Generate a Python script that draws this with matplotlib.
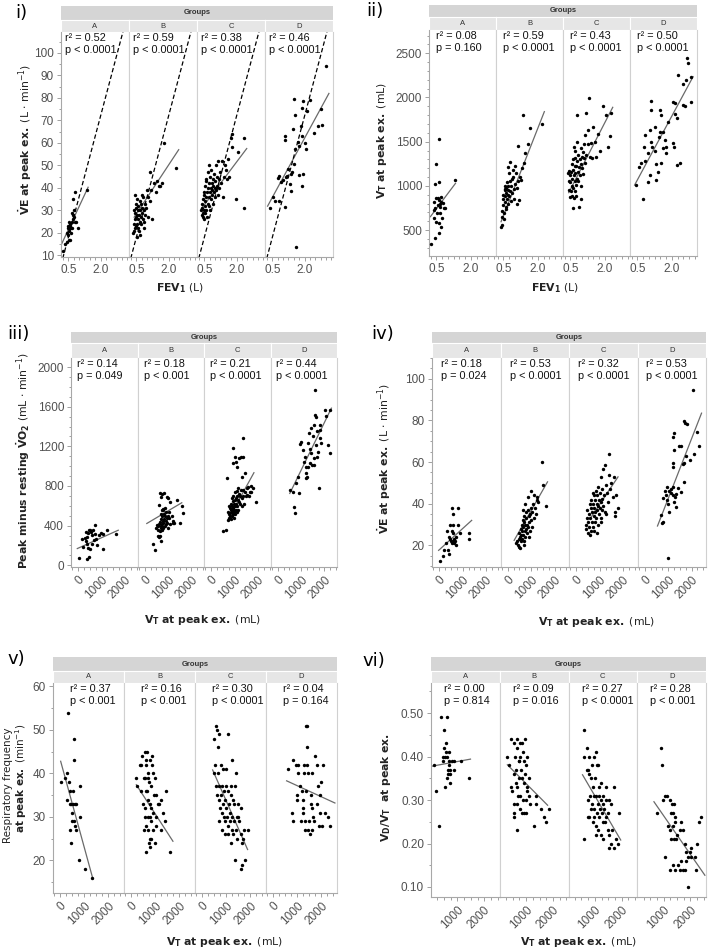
import matplotlib
matplotlib.use("Agg")
import matplotlib.pyplot as plt
from matplotlib.ticker import MultipleLocator, FormatStrFormatter

plt.rcParams['font.family'] = ['Liberation Sans', 'DejaVu Sans']
plt.rcParams['mathtext.fontset'] = 'dejavusans'

groups = ['A', 'B', 'C', 'D']

# ---------------- i) VE at peak ex. vs FEV1 ----------------
i_A = [(0.24,12),(0.35,15),(0.42,16),(0.45,20),(0.48,22),(0.50,23),(0.52,21),(0.55,22),(0.58,23),(0.60,24),
       (0.52,17),(0.58,17),(0.62,20),(0.65,22),(0.68,25),(0.70,26),(0.72,28),(0.75,27),(0.78,30),(0.82,25),
       (0.85,25),(0.72,35),(0.80,38),(0.95,22),(1.35,39),(0.62,22),(0.55,25),(0.48,19),(0.66,29)]
i_B = [(0.35,20),(0.38,21),(0.40,24),(0.42,22),(0.45,26),(0.45,29),(0.48,31),(0.50,27),(0.50,33),(0.52,24),
       (0.55,28),(0.55,35),(0.58,30),(0.58,26),(0.60,22),(0.60,32),(0.62,28),(0.65,25),(0.65,34),(0.68,30),
       (0.70,27),(0.72,33),(0.72,24),(0.75,29),(0.78,31),(0.80,26),(0.82,36),(0.85,30),(0.88,22),(0.90,33),
       (0.92,28),(0.95,31),(1.00,39),(1.05,36),(1.05,27),(1.12,47),(1.15,34),(1.20,39),(1.24,26),(1.32,42),
       (1.40,38),(1.47,43),(1.55,41),(1.62,41),(1.70,42),(1.78,60),(2.36,49),(0.55,18),(0.45,37),(0.62,21),
       (0.40,30),(0.75,37),(0.50,23),(0.68,19),(0.85,25)]
i_C = [(0.35,30),(0.38,28),(0.40,31),(0.40,33),(0.42,29),(0.45,27),(0.45,35),(0.48,30),(0.50,26),(0.50,38),
       (0.52,32),(0.55,29),(0.55,41),(0.58,36),(0.60,30),(0.60,44),(0.62,38),(0.65,33),(0.65,47),(0.68,40),
       (0.70,36),(0.70,50),(0.72,42),(0.75,38),(0.75,30),(0.78,45),(0.80,40),(0.80,35),(0.82,48),(0.85,42),
       (0.85,37),(0.88,39),(0.90,44),(0.90,33),(0.92,41),(0.95,38),(0.95,46),(0.98,40),(1.00,43),(1.00,36),
       (1.02,50),(1.05,39),(1.08,45),(1.10,41),(1.12,37),(1.15,52),(1.18,44),(1.20,40),(1.25,47),(1.28,42),
       (1.30,52),(1.35,36),(1.40,45),(1.45,50),(1.50,48),(1.55,44),(1.60,53),(1.67,45),(1.75,62),(1.78,64),
       (1.80,58),(1.98,35),(2.05,56),(2.33,62),(2.36,31),(0.55,34),(0.62,27),(0.70,32),(0.58,43),(0.48,37)]
i_D = [(3.00,94.4),(1.50,79.6),(1.94,78.6),(2.24,78.9),(1.90,75.7),(2.13,74.2),(1.55,72.3),(2.76,74.9),
       (1.44,66.1),(1.84,67.5),(2.61,67.5),(2.79,68.1),(1.09,63.1),(1.09,61.2),(1.89,63.1),(2.42,64.6),
       (2.00,59.9),(1.71,60.2),(1.55,57.5),(2.08,57.5),(1.74,58.7),(1.49,50.6),(1.25,48.4),(1.36,46.1),
       (1.16,45.4),(0.81,45.4),(0.76,44.2),(0.89,42.5),(1.14,45.0),(1.40,47.0),(1.72,45.8),(1.91,46.1),
       (1.32,41.7),(1.89,40.7),(1.38,38.5),(0.51,35.8),(0.64,34.3),(0.79,34.3),(0.38,31.1),(1.07,31.7),
       (1.62,13.7),(1.00,43.5)]
i_fit_x = [(0.16, 1.42), (0.40, 2.47), (0.36, 2.47), (0.28, 3.13)]
i_fit_y = [(14.5, 40.3), (27.0, 57.0), (30.7, 57.5), (31.9, 82.0)]
i_r2 = ['0.52', '0.59', '0.38', '0.46']
i_p = ['p < 0.0001', 'p < 0.0001', 'p < 0.0001', 'p < 0.0001']
mvv_factor = 36  # dashed line: VE = factor x FEV1

# ---------------- ii) VT at peak ex. vs FEV1 ----------------
ii_A = [(0.28,338),(0.43,406),(0.63,1530),(0.49,1247),(0.46,1021),(0.63,1047),(0.38,821),(0.49,858),(0.56,866),
        (0.60,840),(0.70,821),(0.79,802),(0.67,764),(0.46,745),(0.41,726),(0.53,689),(0.64,689),(0.82,745),
        (0.89,745),(0.75,632),(0.38,632),(0.50,594),(0.60,583),(0.70,538),(0.61,462),(1.33,1066),(0.64,800),
        (0.56,783),(0.70,877)]
ii_B = [(0.40,530),(0.42,560),(0.45,650),(0.45,720),(0.48,780),(0.50,850),(0.50,900),(0.52,690),(0.55,820),
        (0.55,960),(0.58,880),(0.58,1000),(0.60,760),(0.60,920),(0.62,980),(0.65,850),(0.65,1040),(0.68,900),
        (0.70,950),(0.70,1210),(0.72,800),(0.72,1000),(0.75,880),(0.78,1050),(0.80,940),(0.80,1270),(0.82,830),
        (0.85,1000),(0.88,920),(0.90,1100),(0.92,1180),(0.95,850),(0.98,960),(1.00,1020),(1.02,1220),(1.05,1150),
        (1.08,980),(1.10,800),(1.15,1060),(1.15,1450),(1.20,840),(1.22,1100),(1.27,1066),(1.30,1200),(1.34,1800),
        (1.38,1255),(1.46,1370),(1.56,1470),(1.66,1650),(2.18,1700),(0.52,620),(0.62,740),(0.75,1150),(0.88,1080),
        (0.58,950)]
ii_C = [(0.40,1150),(0.42,1050),(0.45,950),(0.45,1170),(0.48,1040),(0.50,870),(0.50,1120),(0.52,940),(0.55,1250),
        (0.55,1000),(0.58,880),(0.58,1080),(0.60,750),(0.60,1180),(0.62,1300),(0.62,980),(0.65,1120),(0.65,860),
        (0.68,1220),(0.68,1400),(0.70,1050),(0.70,940),(0.72,1150),(0.72,1320),(0.75,880),(0.75,1230),(0.78,1800),
        (0.78,1080),(0.80,1280),(0.80,1500),(0.82,1160),(0.85,1050),(0.85,1350),(0.88,1210),(0.89,764),(0.90,1300),
        (0.92,1120),(0.95,1430),(0.96,847),(0.98,1250),(1.00,1330),(1.02,1200),(1.05,1380),(1.08,1310),(1.10,1470),
        (1.12,1260),(1.15,1580),(1.18,1830),(1.20,1350),(1.25,1470),(1.28,1630),(1.33,1990),(1.35,1330),(1.40,1480),
        (1.45,1310),(1.50,1670),(1.55,1500),(1.60,1330),(1.70,1590),(1.80,1400),(1.91,1900),(2.05,1800),(2.15,1440),
        (2.20,1560),(2.27,1830),(0.65,1440),(0.52,1160),(0.75,1010),(0.95,1000),(1.05,1130)]
ii_D = [(0.43,1009),(0.76,847),(0.67,1255),(0.57,1217),(0.82,1281),(0.78,1443),(0.82,1575),(1.04,1632),(1.08,1858),
        (1.11,1960),(0.98,1047),(1.05,1123),(1.12,1443),(1.09,1500),(1.25,1394),(1.29,1243),(1.40,1160),(1.33,1066),
        (1.47,1858),(1.51,1802),(1.47,1613),(1.43,1557),(1.62,1613),(1.62,1424),(1.76,1443),(1.54,1255),(1.76,1368),
        (1.83,1726),(2.05,1953),(2.12,1934),(2.12,1809),(2.20,1764),(2.09,1443),(2.20,1236),(2.34,1255),(2.49,1915),
        (2.56,1904),(2.49,2149),(2.27,2255),(2.63,2198),(2.70,2387),(2.67,2443),(2.85,2236),(2.85,1953),(2.05,1481),
        (1.69,1519),(0.96,1368),(1.25,1670)]
ii_fit_x = [(0.24, 1.33), (0.40, 2.28), (0.43, 2.34), (0.38, 2.92)]
ii_fit_y = [(651, 1028), (594, 1840), (923, 1889), (1009, 2236)]
ii_r2 = ['0.08', '0.59', '0.43', '0.50']
ii_p = ['p = 0.160', 'p < 0.0001', 'p < 0.0001', 'p < 0.0001']

# ---------------- iii) Peak minus resting VO2 vs VT ----------------
iii_A = [(29,78),(386,67),(471,84),(214,185),(143,270),(286,277),(386,287),(329,243),(471,354),(529,337),
         (571,304),(429,327),(500,361),(614,354),(357,219),(500,169),(571,219),(671,253),(757,270),(714,405),
         (900,304),(971,327),(1043,169),(1071,314),(786,202),(1243,354),(1614,314),(714,314),(329,337),(414,175)]
iii_B = [(371,219),(443,152),(500,380),(520,410),(560,360),(580,400),(600,420),(610,290),(640,300),(650,350),
         (660,440),(680,380),(690,520),(700,470),(700,400),(720,360),(730,560),(740,420),(750,500),(760,390),
         (770,450),(780,560),(790,380),(800,430),(820,470),(830,520),(850,400),(860,580),(880,500),(900,450),
         (900,420),(920,540),(940,480),(960,430),(980,380),(1000,500),(1020,540),(1050,480),(1100,420),(1150,500),
         (1200,450),(1250,430),(1371,658),(1514,422),(1586,597),(1629,523),(657,732),(757,715),(829,725),(686,691),
         (943,685),(1014,675),(629,607),(771,563),(1086,641),(560,300),(680,250),(1229,422)]
iii_C = [(650,360),(700,460),(720,540),(750,520),(760,480),(780,600),(800,580),(800,500),(820,530),(830,470),
         (850,560),(850,620),(870,540),(880,500),(890,680),(900,560),(900,600),(920,520),(930,650),(940,580),
         (950,700),(960,540),(970,620),(980,480),(990,560),(1000,660),(1000,520),(1020,600),(1030,740),(1050,560),
         (1060,680),(1080,620),(1090,540),(1100,750),(1110,700),(1120,600),(1140,660),(1150,780),(1160,560),(1180,720),
         (1200,640),(1220,620),(1250,700),(1270,760),(1300,680),(1330,600),(1350,760),(1380,700),(1400,620),(1450,740),
         (1500,700),(1520,780),(1600,700),(1650,740),(1700,800),(1800,780),(1900,640),(940,1180),(1014,1096),(1043,1045),
         (943,1029),(1114,995),(1200,1079),(1260,1096),(1343,1282),(1371,1096),(1443,927),(1300,894),(657,884),(486,347),
         (871,540),(1586,793),(1514,708),(1686,742)]
iii_D = [(514,759),(729,523),(686,590),(771,826),(657,742),(914,732),(871,894),(943,1224),(1014,1248),(1114,1045),
         (1086,1164),(1157,1096),(1229,995),(1229,927),(1257,894),(1200,877),(1300,1238),(1371,1170),(1443,1130),
         (1343,1332),(1443,1383),(1543,1417),(1600,1518),(1629,1494),(1657,1214),(1729,1147),(1800,1282),(1829,1417),
         (1871,1238),(2014,1568),(2086,1501),(2157,1214),(1771,776),(1543,1079),(1486,1012),(1371,1029),(1300,995),
         (1571,1012),(1671,1096),(1800,1366),(2229,1568),(2229,1130),(1586,1771),(1500,1300),(1700,1350)]
iii_fit_x = [(-43, 1714), (86, 1586), (943, 1829), (514, 2300)]
iii_fit_y = [(169, 354), (422, 631), (556, 934), (725, 1585)]
iii_r2 = ['0.14', '0.18', '0.21', '0.44']
iii_p = ['p = 0.049', 'p < 0.001', 'p < 0.0001', 'p < 0.0001']

# ---------------- iv) VE at peak ex. vs VT ----------------
iv_A = [(43,12.5),(143,15),(214,18),(357,18),(429,16),(286,21),(500,22),(571,22),(471,23),(529,21),(643,23),
        (671,22),(586,26),(314,27),(457,30),(543,27),(586,30),(571,35),(543,38),(814,38),(786,30),(714,20),
        (900,26),(1286,26),(1257,23),(429,24),(650,21),(700,24)]
iv_B = [(371,21),(400,22),(450,20),(480,23),(500,19),(500,26),(520,24),(550,22),(560,28),(580,25),(600,30),
        (600,23),(620,27),(640,32),(650,25),(660,29),(680,22),(700,31),(700,34),(720,27),(730,40),(740,30),
        (750,24),(760,36),(780,28),(800,33),(810,26),(830,30),(850,37),(870,43),(880,29),(900,34),(920,31),
        (940,27),(960,35),(980,38),(1000,32),(1010,46),(1020,29),(1050,36),(1080,40),(1100,33),(1150,38),
        (1200,35),(1230,43),(1270,42),(1300,41),(1443,60),(1514,49),(1614,39),(630,37),(514,18.7),(900,24),
        (700,20),(1100,44)]
iv_C = [(400,30),(420,28),(450,33),(470,37),(500,26),(520,31),(540,35),(560,29),(580,40),(600,33),(620,27),
        (640,38),(650,42),(660,31),(680,36),(700,29),(720,40),(740,34),(750,44),(760,38),(780,31),(800,42),
        (820,36),(840,46),(850,33),(870,40),(880,37),(900,44),(920,30),(940,39),(950,48),(960,35),(980,42),
        (1000,38),(1020,45),(1040,33),(1060,41),(1071,53),(1080,37),(1100,42.5),(1120,47),(1143,56.5),(1150,39),
        (1180,44),(1214,58.6),(1220,36),(1250,49),(1286,35),(1300,45),(1350,41),(1400,64),(1400,54),(1450,47),
        (1500,50),(1550,43),(1614,53),(1643,34),(1671,36),(1700,44),(1786,38),(600,25),(750,27),(900,26),
        (1050,31),(700,45)]
iv_D = [(2071,94.4),(1657,79.8),(1714,78.9),(1786,78.2),(1257,73.8),(1214,72.2),(2229,74.6),(1471,67.9),
        (1543,67.7),(1257,65.8),(2300,67.9),(2114,63.9),(1757,63),(1686,59.8),(1643,59),(1186,59.4),(1214,57.7),
        (1943,61),(1657,50.5),(943,47.8),(1114,47.3),(1186,48.2),(1043,46),(871,46),(1186,44.1),(1329,44.9),
        (1543,45.7),(786,42.8),(971,41.7),(1300,43.3),(1257,40.9),(1000,40.1),(1329,38.5),(1043,36),(700,34.5),
        (800,31.2),(757,30.8),(1000,13.9),(1400,47.5),(1100,45),(900,44)]
iv_fit_x = [(-29, 1386), (271, 1700), (643, 1786), (543, 2429)]
iv_fit_y = [(17.6, 32.0), (22.4, 50.5), (33.7, 52.9), (29.3, 83.5)]
iv_r2 = ['0.18', '0.53', '0.32', '0.53']
iv_p = ['p = 0.024', 'p < 0.0001', 'p < 0.0001', 'p < 0.0001']

# ---------------- v) Respiratory frequency vs VT ----------------
v_A = [(68,38),(205,39),(301,40),(384,38),(315,34),(479,33),(411,36),(438,33),(548,33),(616,33),(658,33),
       (521,31),(548,36),(575,43),(575,48),(342,54),(521,29),(575,29),(438,27),(658,27),(616,28),(479,24),
       (822,37),(822,30),(781,20),(1027,18),(1329,16)]
v_B = [(233,39),(260,37),(370,42),(438,42),(479,44),(575,45),(616,43),(644,42),(603,39),(534,39),(712,40),
       (753,38),(685,36),(616,36),(712,34),(808,33),(849,32),(918,31),(781,30),(699,30),(644,28),(712,27),
       (753,24),(808,23),(644,22),(849,25),(986,24),(918,27),(1055,30),(1123,33),(1055,35),(1260,34),(1329,31),
       (1260,27),(1397,29),(1466,36),(849,37),(918,40),(890,42),(781,43),(671,45),(986,39),(1055,28),(1164,33),
       (849,29),(1630,22),(507,33),(438,36),(575,30),(534,27),(781,25),(700,39),(950,35),(600,32),(880,44)]
v_C = [(521,48),(589,51),(630,50),(726,49),(685,46),(1068,49),(795,42),(877,41),(562,42),(658,40),(1000,41),
       (1411,40),(1205,37),(1247,43),(1274,34),(1342,33),(1616,32),(1479,30),(1753,27),(1890,27),(1795,20),
       (1384,20),(1616,18),(1658,19),(520,40),(600,37),(650,35),(700,34),(720,37),(760,32),(800,35),(820,31),
       (850,37),(880,33),(900,30),(920,36),(950,34),(980,29),(1000,37),(1020,32),(1050,30),(1080,36),(1100,28),
       (1120,33),(1150,31),(1180,29),(1200,35),(1230,27),(1260,30),(1300,26),(1330,29),(1360,37),(1400,27),
       (1450,25),(1500,33),(1550,29),(1600,26),(1650,24),(1700,25),(1450,30),(700,29),(850,27),(950,26),
       (1100,26),(1200,24)]
v_D = [(644,41),(781,31),(849,29),(849,43),(945,42),(1041,40),(986,34),(1014,35),(1123,37),(1192,36),(1233,34),
       (1260,32),(1329,29),(1288,42),(1370,51),(1397,46),(1397,42),(1466,40),(1603,40),(1562,35),(1603,32),
       (1671,30),(1466,27),(1329,27),(1630,27),(1740,44),(1808,42),(1808,33),(1877,37),(1945,35),(2014,28),
       (2082,42),(2151,31),(2288,30),(1918,28),(1430,51),(1480,29),(1520,26),(1700,29),(1240,31),(1560,33),
       (2000,38),(1380,36),(1950,31),(2350,28),(1150,29),(1050,42),(1300,40)]
v_fit_x = [(41, 1370), (233, 1740), (452, 1890), (575, 2562)]
v_fit_y = [(42.8, 15.7), (37.4, 24.4), (40.8, 22.5), (38.3, 33.2)]
v_r2 = ['0.37', '0.16', '0.30', '0.04']
v_p = ['p < 0.001', 'p < 0.001', 'p < 0.0001', 'p = 0.164']

# ---------------- vi) VD/VT vs VT ----------------
vi_A = [(138,0.38),(213,0.32),(300,0.24),(388,0.49),(625,0.49),(513,0.46),(588,0.43),(488,0.42),(463,0.40),
        (550,0.40),(613,0.40),(463,0.39),(675,0.39),(675,0.38),(738,0.37),(650,0.37),(638,0.36),(613,0.35),
        (713,0.34),(550,0.33),(800,0.39),(863,0.39),(888,0.37),(1138,0.39),(1425,0.35),(738,0.36),(580,0.41),
        (700,0.41)]
vi_B = [(425,0.44),(663,0.44),(950,0.44),(538,0.43),(788,0.43),(850,0.43),(663,0.42),(900,0.41),(1050,0.40),
        (988,0.38),(788,0.40),(725,0.39),(638,0.37),(538,0.36),(725,0.35),(850,0.35),(1113,0.35),(925,0.34),
        (425,0.33),(488,0.32),(663,0.33),(788,0.31),(1038,0.32),(538,0.29),(663,0.29),(850,0.27),(563,0.27),
        (538,0.26),(663,0.23),(925,0.27),(988,0.27),(1150,0.29),(1363,0.31),(1363,0.29),(1550,0.28),(1650,0.26),
        (1863,0.28),(1738,0.25),(1300,0.24),(1050,0.33),(725,0.39),(925,0.39),(300,0.40),(363,0.38),(600,0.40),
        (800,0.37),(950,0.36),(700,0.31),(880,0.30),(1000,0.30),(620,0.34),(760,0.28),(1100,0.31)]
vi_C = [(575,0.46),(688,0.42),(600,0.40),(788,0.40),(950,0.40),(1038,0.41),(1075,0.38),(1125,0.38),(725,0.37),
        (788,0.36),(875,0.38),(850,0.35),(913,0.33),(975,0.31),(1038,0.31),(1163,0.31),(1225,0.30),(1288,0.31),
        (1413,0.30),(1538,0.30),(1600,0.29),(1100,0.29),(975,0.28),(850,0.28),(725,0.30),(788,0.26),(913,0.25),
        (975,0.26),(1075,0.27),(1163,0.26),(1250,0.27),(1350,0.28),(1500,0.27),(1288,0.25),(1375,0.25),(1125,0.23),
        (1225,0.22),(1038,0.22),(1288,0.21),(1475,0.23),(1538,0.22),(1600,0.20),(1725,0.19),(1538,0.19),(1788,0.21),
        (1913,0.27),(1725,0.33),(1850,0.20),(600,0.21),(725,0.26),(1225,0.34),(1413,0.33),(700,0.37),(820,0.31),
        (900,0.29),(1000,0.35),(1150,0.33),(1300,0.29),(1400,0.26),(1650,0.23),(1050,0.24),(1200,0.28)]
vi_D = [(888,0.42),(950,0.38),(738,0.27),(1038,0.31),(1138,0.31),(975,0.30),(1225,0.30),(1313,0.29),(1388,0.29),
        (1050,0.17),(1163,0.24),(1263,0.27),(1350,0.27),(1413,0.26),(1438,0.25),(1350,0.24),(1225,0.23),(1288,0.21),
        (1388,0.21),(1475,0.21),(1513,0.22),(1600,0.23),(1350,0.15),(1225,0.14),(1413,0.14),(1538,0.15),(1663,0.16),
        (1600,0.14),(1788,0.20),(1850,0.18),(1725,0.14),(1788,0.14),(1850,0.16),(1913,0.17),(1975,0.18),(1913,0.10),
        (2013,0.17),(2225,0.14),(2163,0.17),(2325,0.25),(2388,0.26),(2038,0.19),(1725,0.23),(1638,0.25),(2250,0.20)]
vi_fit_x = [(75, 1488), (300, 1800), (538, 1963), (638, 2538)]
vi_fit_y = [(0.378, 0.394), (0.381, 0.288), (0.358, 0.208), (0.296, 0.127)]
vi_r2 = ['0.00', '0.09', '0.27', '0.28']
vi_p = ['p = 0.814', 'p = 0.016', 'p < 0.0001', 'p < 0.001']

# ---------------- layout ----------------
W, H = 708, 951
fig = plt.figure(figsize=(W / 100, H / 100), dpi=100)


def box(x0, y0, x1, y1):
    return [x0 / W, 1 - y1 / H, (x1 - x0) / W, (y1 - y0) / H]


def panel(frame, facets, fit_x, fit_y, r2, pv, xlim, ylim, xticks, xminor, xfmt,
          ystep, yminor, yfmt, rotate, text_dx, dashed=None):
    x0, x1, s0, s1, top, bot = frame
    w = (x1 - x0) / 4

    g = fig.add_axes(box(x0, s0, x1, s1))
    g.set_facecolor('#d5d5d5')
    g.set_xticks([]); g.set_yticks([])
    for sp in g.spines.values():
        sp.set_visible(False)
    g.text(0.5, 0.5, 'Groups', ha='center', va='center', fontsize=5.5,
           fontweight='bold', color='#333333')

    for k, name in enumerate(groups):
        a = x0 + k * w
        st = fig.add_axes(box(a, s1, a + w, top))
        st.set_facecolor('#e6e6e6')
        st.set_xticks([]); st.set_yticks([])
        for sp in st.spines.values():
            sp.set_color('white'); sp.set_linewidth(0.8)
        st.text(0.5, 0.5, name, ha='center', va='center', fontsize=5.5, color='#333333')

        ax = fig.add_axes(box(a, top, a + w, bot))
        pts = facets[k]
        ax.scatter([p[0] for p in pts], [p[1] for p in pts], s=6, c='black',
                   linewidths=0, zorder=3)
        ax.plot(fit_x[k], fit_y[k], color='#6a6a6a', lw=0.9, zorder=2)
        if dashed is not None:
            ax.plot(xlim, [dashed * xlim[0], dashed * xlim[1]], color='black',
                    lw=0.9, ls=(0, (3.5, 2)), zorder=2)
        ax.set_xlim(xlim)
        ax.set_ylim(ylim)

        for side, sp in ax.spines.items():
            sp.set_color('#d0d0d0'); sp.set_linewidth(0.8)
        ax.spines['top'].set_visible(False)
        ax.spines['bottom'].set_color('#a8a8a8')
        if k == 0:
            ax.spines['left'].set_color('#a8a8a8')

        ax.set_xticks(xticks)
        ax.xaxis.set_minor_locator(MultipleLocator(xminor))
        ax.xaxis.set_major_formatter(FormatStrFormatter(xfmt))
        ax.yaxis.set_major_locator(MultipleLocator(ystep))
        ax.yaxis.set_minor_locator(MultipleLocator(yminor))
        ax.yaxis.set_major_formatter(FormatStrFormatter(yfmt))
        ax.tick_params(which='both', direction='out', color='#909090', width=0.6,
                       labelcolor='#505050', labelsize=8.5, pad=2)
        ax.tick_params(which='major', length=3)
        ax.tick_params(which='minor', length=1.8)
        if k > 0:
            ax.tick_params(axis='y', which='both', left=False, labelleft=False)
        if rotate:
            plt.setp(ax.get_xticklabels(), rotation=45, ha='right',
                     rotation_mode='anchor')

        ax.text(text_dx / w, 1 - 1.0 / (bot - top), 'r\u00b2 = ' + r2[k] + '\n' + pv[k],
                transform=ax.transAxes, ha='left', va='top', fontsize=7.8,
                linespacing=1.25, color='#111111', zorder=4)


def ftext(x, y, s, **kw):
    fig.text(x / W, 1 - y / H, s, **kw)


lab = dict(fontsize=7.8, family='DejaVu Sans', color='#222222', ha='center', va='center')
ve_lab = r'$\mathbf{\dot{V}E\ at\ peak\ ex.}$ (L $\cdot$ min$^{-1}$)'
vt_lab = r'$\mathbf{V_T\ at\ peak\ ex.}$ (mL)'
fev_lab = r'$\mathbf{FEV_1}$ (L)'

# i)
panel((61, 333, 6, 20, 32, 257), [i_A, i_B, i_C, i_D], i_fit_x, i_fit_y, i_r2, i_p,
      (0.16, 3.32), (9.3, 109.3), [0.5, 2.0], 0.25, '%.1f', 10, 5, '%d', False, 4,
      dashed=mvv_factor)
ftext(15, 13, 'i)', fontsize=13, family='DejaVu Sans', va='center')
ftext(25, 140, ve_lab, rotation=90, **lab)
ftext(180, 288, fev_lab, **lab)

# ii)
panel((429, 697, 5, 17, 30, 256), [ii_A, ii_B, ii_C, ii_D], ii_fit_x, ii_fit_y, ii_r2, ii_p,
      (0.18, 3.09), (206, 2764), [0.5, 2.0], 0.25, '%.1f', 500, 100, '%d', False, 7)
ftext(366, 11, 'ii)', fontsize=13, family='DejaVu Sans', va='center')
ftext(382, 140, r'$\mathbf{V_T\ at\ peak\ ex.}$ (mL)', rotation=90, **lab)
ftext(555, 288, fev_lab, **lab)

# iii)
panel((71, 337, 332, 343, 358, 567), [iii_A, iii_B, iii_C, iii_D], iii_fit_x, iii_fit_y,
      iii_r2, iii_p, (-313, 2540), (-17, 2091), [0, 1000, 2000], 250, '%d', 400, 100, '%d',
      True, 6)
ftext(7, 334, 'iii)', fontsize=13, family='DejaVu Sans', va='center')
ftext(23, 461, r'$\mathbf{Peak\ minus\ resting\ \dot{V}O_2}$ (mL $\cdot$ min$^{-1}$)',
      rotation=90, **lab)
ftext(203, 620, vt_lab, **lab)

# iv)
panel((432, 706, 332, 343, 358, 567), [iv_A, iv_B, iv_C, iv_D], iv_fit_x, iv_fit_y,
      iv_r2, iv_p, (-313, 2620), (9.6, 110), [0, 1000, 2000], 250, '%d', 20, 5, '%d',
      True, 9)
ftext(371, 334, 'iv)', fontsize=13, family='DejaVu Sans', va='center')
ftext(384, 459, ve_lab, rotation=90, **lab)
ftext(597, 622, vt_lab, **lab)

# v)
panel((53, 337, 657, 671, 683, 893), [v_A, v_B, v_C, v_D], v_fit_x, v_fit_y, v_r2, v_p,
      (-274, 2648), (12.5, 60.8), [0, 1000, 2000], 250, '%d', 10, 5, '%d', True, 17)
ftext(7, 659, 'v)', fontsize=13, family='DejaVu Sans', va='center')
ftext(8, 785, 'Respiratory frequency', rotation=90, **dict(lab, fontsize=7.5))
ftext(21, 778, r'$\mathbf{at\ peak\ ex.}$ (min$^{-1}$)', rotation=90, **dict(lab, fontsize=7.5))
ftext(225, 942, vt_lab, **lab)

# vi)
panel((431, 706, 657, 671, 683, 897), [vi_A, vi_B, vi_C, vi_D], vi_fit_x, vi_fit_y,
      vi_r2, vi_p, (15, 2580), (0.077, 0.569), [1000, 2000], 250, '%d', 0.1, 0.05, '%.2f',
      True, 13)
ftext(362, 661, 'vi)', fontsize=13, family='DejaVu Sans', va='center')
ftext(386, 787, r'$\mathbf{V_D/V_T\ \ at\ peak\ ex.}$', rotation=90, **lab)
ftext(579, 942, vt_lab, **lab)

fig.savefig('out.png', dpi=100)
